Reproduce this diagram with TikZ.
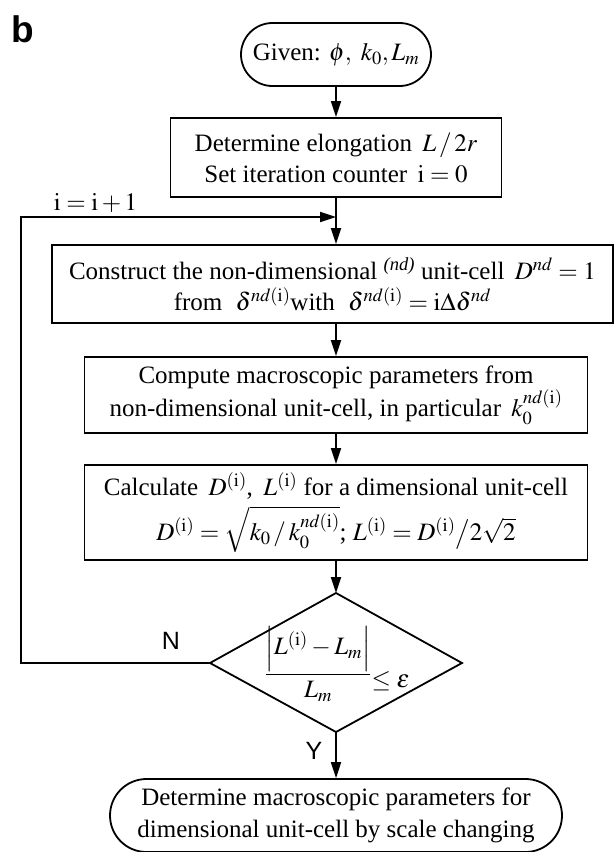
\documentclass[tikz,border=0pt]{standalone}
\usepackage{mathptmx}
\usepackage[no-math]{fontspec}
\setmainfont{Liberation Serif}
\newfontfamily\arialfont{Liberation Sans}
\usetikzlibrary{shapes.misc,arrows.meta}
\tikzset{
  every picture/.style={line width=1.8pt},
  procbox/.style={draw, rectangle, align=center, inner sep=0pt, font=\fontsize{25}{31}\selectfont},
  termbox/.style={draw, rounded rectangle, align=center, inner sep=0pt, font=\fontsize{25}{32}\selectfont},
  flow/.style={-{Triangle[length=16pt,width=10pt]}},
  yn/.style={font=\arialfont\fontsize{25}{25}\selectfont, inner sep=0pt},
}
\begin{document}
\begin{tikzpicture}[x=1pt,y=-1pt]
\useasboundingbox (0,0) rectangle (614,852);
\node[font=\arialfont\bfseries\fontsize{37}{37}\selectfont, inner sep=0pt] (lab) at (23,29) {b};
\node[termbox, minimum width=190pt, minimum height=63pt] (start) at (336,54.5) {Given: $\phi,\ k_0, L_m$};
\node[procbox, minimum width=331pt, minimum height=79pt] (b1) at (336,157.5)
  {Determine elongation \,$L\,/\,2r$\\ Set iteration counter \,$\mathrm{i}=0$};
\node[procbox, minimum width=561pt, minimum height=78pt] (b2) at (332.5,284)
  {Construct the non-dimensional \textsuperscript{\itshape (nd)} unit-cell \,$D^{nd}=1$\\
   from \;$\delta^{nd(\mathrm{i})}$with \;$\delta^{nd(\mathrm{i})}=\mathrm{i}\Delta\delta^{nd}$};
\node[procbox, minimum width=503pt, minimum height=76pt] (b3) at (336,395)
  {Compute macroscopic parameters from\\ non-dimensional unit-cell, in particular \,$k_0^{nd(\mathrm{i})}$};
\node[procbox, minimum width=503pt, minimum height=95pt] (b4) at (336,512.5)
  {Calculate \,$D^{(\mathrm{i})}$, \,$L^{(\mathrm{i})}$ for a dimensional unit-cell\\[6pt]
   $D^{(\mathrm{i})}=\sqrt{k_0\,/\,k_0^{nd(\mathrm{i})}}$; $L^{(\mathrm{i})}=D^{(\mathrm{i})}\big/2\sqrt{2}$};
% diamond
\coordinate (dT) at (336,593);
\coordinate (dL) at (210,663);
\coordinate (dR) at (462,663);
\coordinate (dB) at (336,732);
\draw (dT) -- (dR) -- (dB) -- (dL) -- cycle;
\node[font=\fontsize{25}{29}\selectfont, inner sep=0pt] (cond) at (337,664)
  {$\displaystyle\frac{\left|L^{(\mathrm{i})}-L_m\right|}{L_m}$\raisebox{-7pt}{$\le\varepsilon$}};
\node[termbox, minimum width=452pt, minimum height=73pt] (end) at (336,815.5)
  {Determine macroscopic parameters for\\ dimensional unit-cell by scale changing};
% flow
\draw[flow] (start) -- (b1);
\draw[flow] (b1) -- (b1 |- b2.north);
\draw[flow] (b1 |- b2.south) -- (b3);
\draw[flow] (b3) -- (b4);
\draw[flow] (b4.south) -- (dT);
\draw[flow] (dB) -- (end);
\coordinate (j) at (336,217);
\coordinate (c1) at (21,663);
\coordinate (c2) at (21,217);
\draw[flow] (dL) -- (c1) -- (c2) -- (j);
\node[font=\fontsize{25}{25}\selectfont, inner sep=0pt] (inc) at (95.5,203) {$\mathrm{i}=\mathrm{i}+1$};
\node[yn] (N) at (171,641) {N};
\node[yn] (Y) at (314,751) {Y};
\end{tikzpicture}
\end{document}
